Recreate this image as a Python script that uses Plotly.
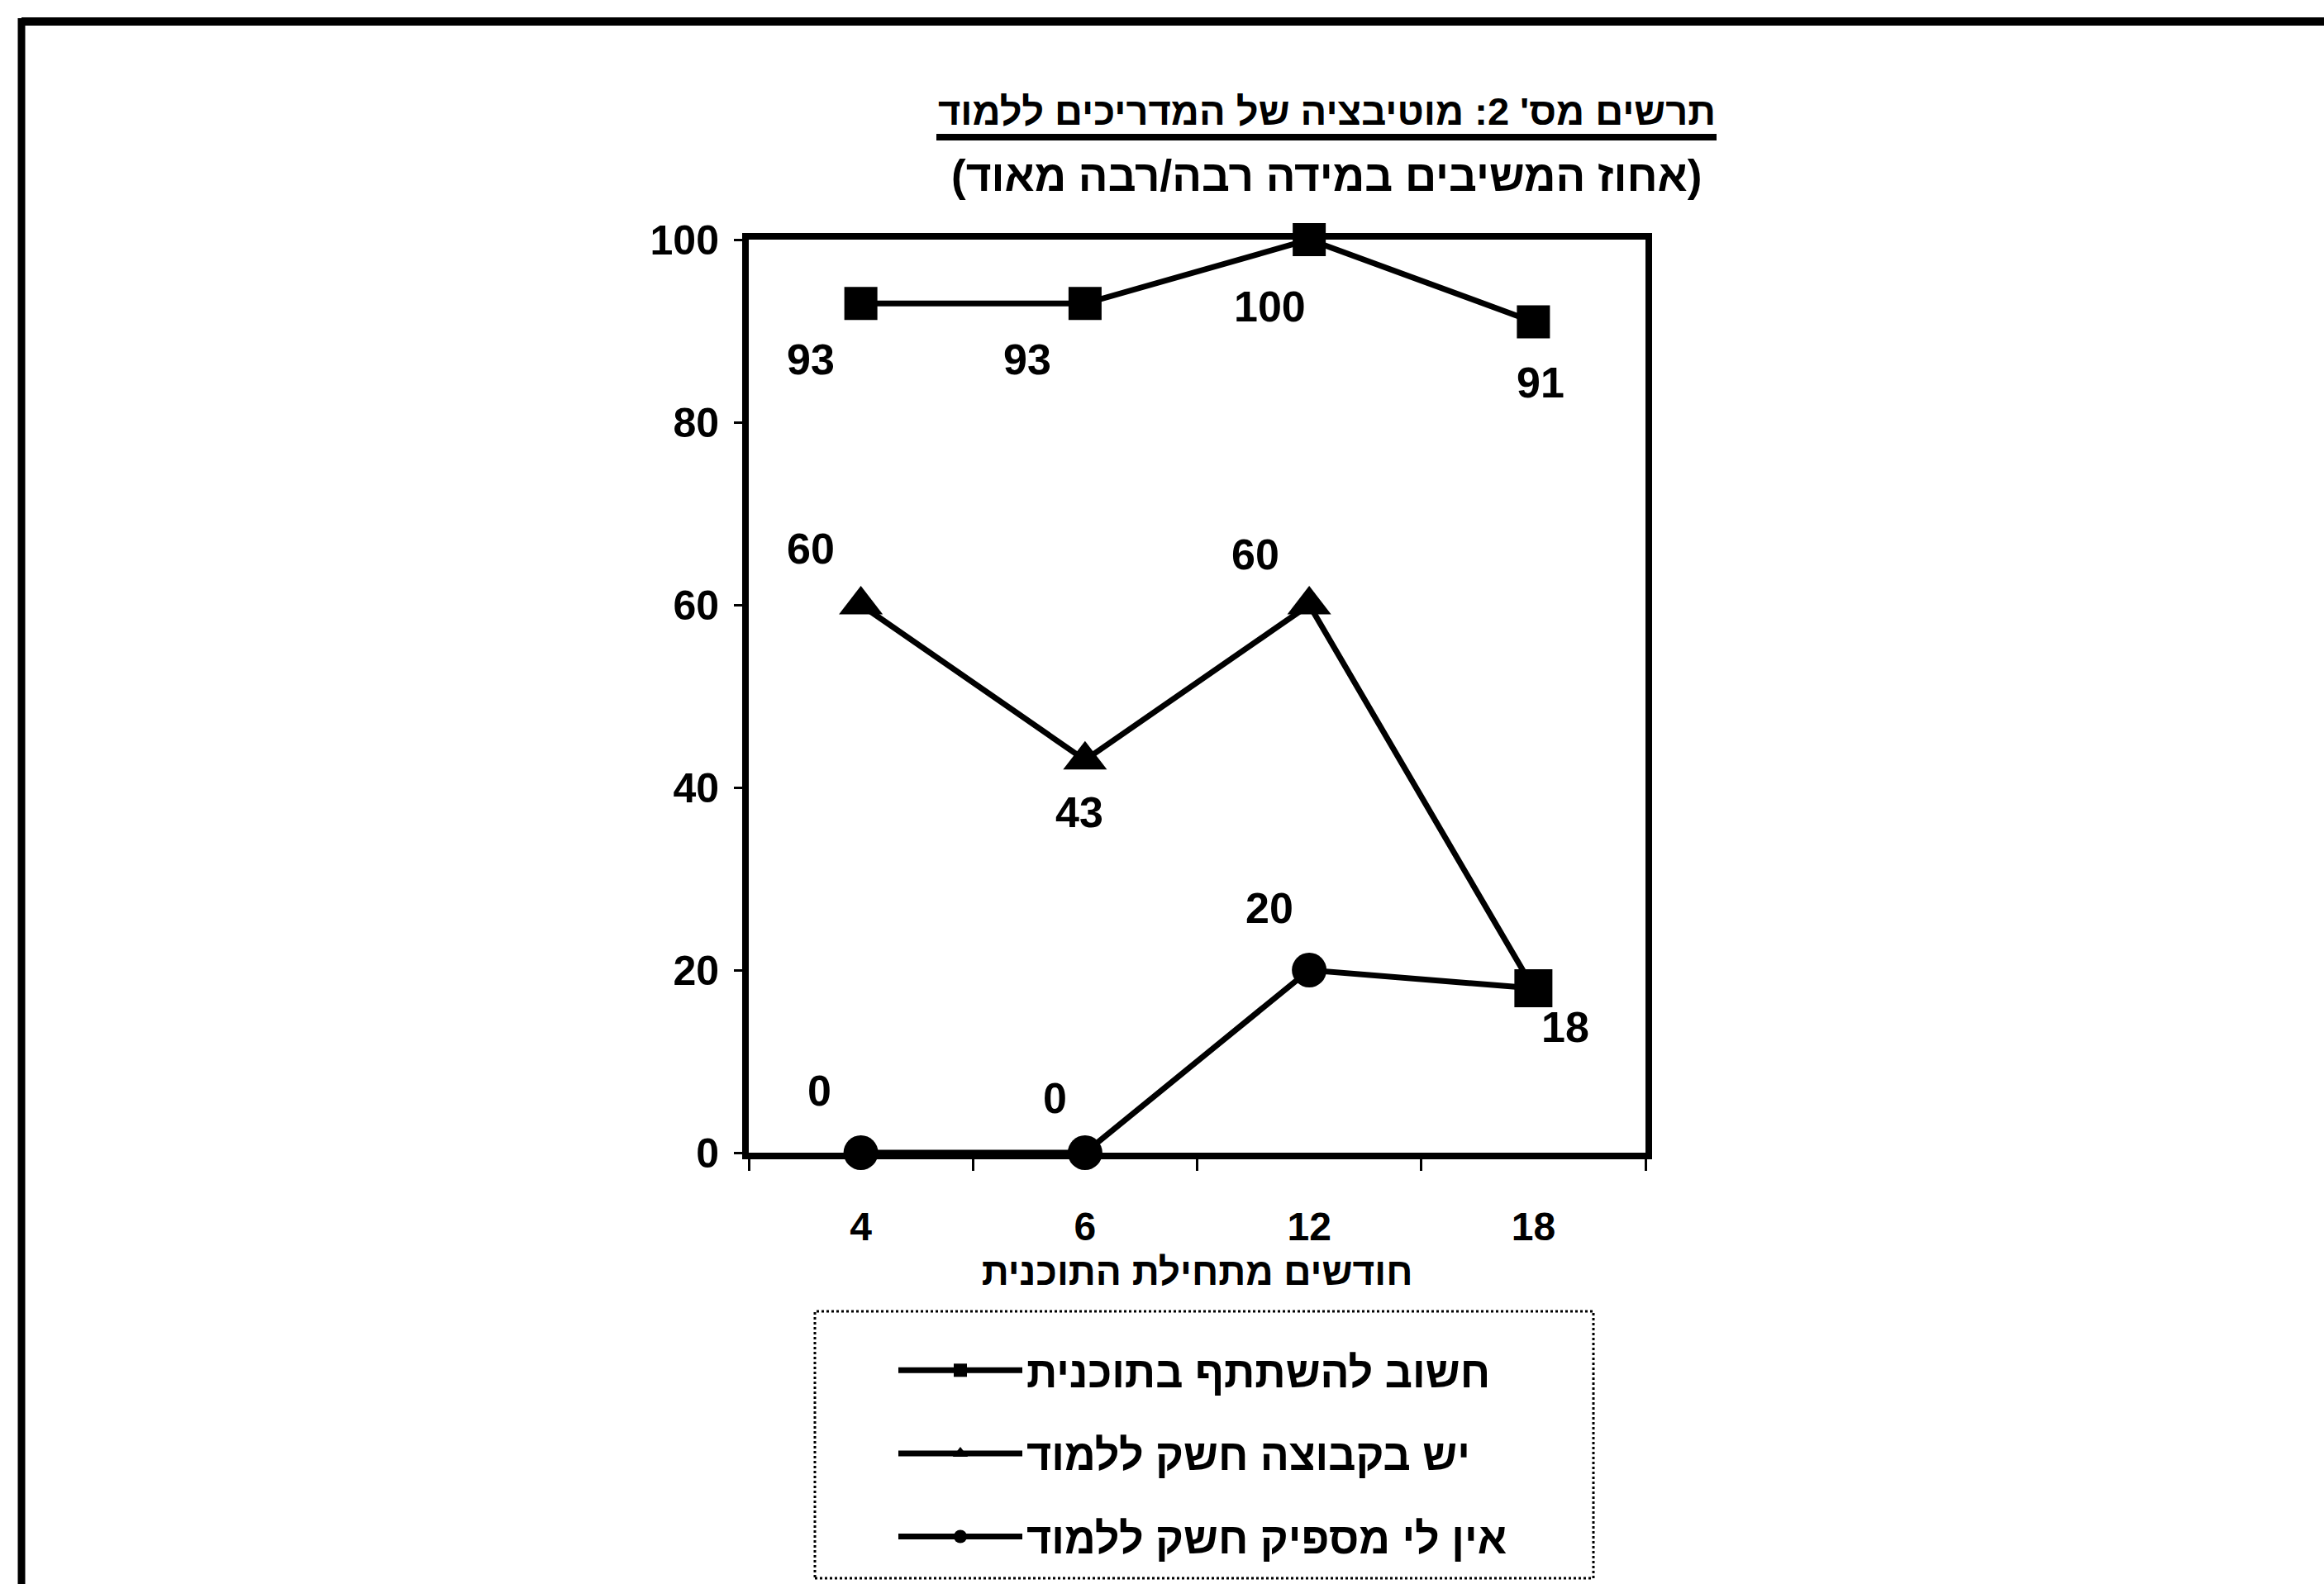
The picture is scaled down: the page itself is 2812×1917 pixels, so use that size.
import plotly.graph_objects as go

# ---- data ----
months = ["4", "6", "12", "18"]
important_to_join = [93, 93, 100, 91]
group_wants_to_learn = [60, 43, 60, 18]
not_enough_desire = [0, 0, 20, 18]

series_names = [
    "חשוב להשתתף בתוכנית",
    "יש בקבוצה חשק ללמוד",
    "אין לי מספיק חשק ללמוד",
]
title_line1 = "תרשים מס' 2: מוטיבציה של המדריכים ללמוד"
title_line2 = "(אחוז המשיבים במידה רבה/רבה מאוד)"
x_title = "חודשים מתחילת התוכנית"
y_ticks = [0, 20, 40, 60, 80, 100]

# ---- page geometry (px) ----
W, H = 2812, 1917
PL, PR, PT, PB = 906, 1991, 290, 1395  # plot area edges
PW, PH = PR - PL, PB - PT


def px(x):
    return (x - PL) / PW


def py(y):
    return (PB - y) / PH


FONT = "Liberation Sans, Arial, sans-serif"
BLACK = "#000000"

fig = go.Figure()

symbols = [
    ["square"] * 4,
    ["triangle-up"] * 3 + ["square"],
    ["circle"] * 3 + ["square"],
]
sizes = [40, 46, 42]
series_vals = [important_to_join, group_wants_to_learn, not_enough_desire]

for i, (name, vals) in enumerate(zip(series_names, series_vals)):
    fig.add_trace(go.Scatter(
        x=months, y=vals, name=name, mode="lines+markers",
        line=dict(color=BLACK, width=7),
        marker=dict(symbol=symbols[i], size=sizes[i], color=BLACK,
                    line=dict(width=0)),
        cliponaxis=False, legendgroup=f"g{i}",
    ))

# value labels: pixel offsets from each point (None = no label)
label_offsets = [
    [(-61, -68), (-70, -68), (-48, -81), (9, -74)],
    [(-61, 68), (-7, -63), (-65, 61), (39, -47)],
    [(-50, 75), (-36, 66), (-48, 75), None],
]
for vals, offs in zip(series_vals, label_offsets):
    for idx, (v, o) in enumerate(zip(vals, offs)):
        if o is None:
            continue
        # category axes take annotation positions as category indices
        fig.add_annotation(
            x=idx, y=v, xref="x", yref="y", text=str(v), showarrow=False,
            xshift=o[0], yshift=o[1],
            font=dict(family=FONT, size=52, color=BLACK, weight="bold"),
        )

# title lines
fig.add_annotation(
    x=px(1605), y=py(134), xref="paper", yref="paper", showarrow=False,
    text=title_line1,
    font=dict(family=FONT, size=47, color=BLACK, weight="bold"),
    xanchor="center", yanchor="middle",
)
fig.add_shape(type="line", xref="paper", yref="paper",
              x0=px(1133), x1=px(2077), y0=py(166), y1=py(166),
              line=dict(color=BLACK, width=8))
fig.add_annotation(
    x=px(1605), y=py(212), xref="paper", yref="paper", showarrow=False,
    text=title_line2,
    font=dict(family=FONT, size=53, color=BLACK, weight="bold"),
    xanchor="center", yanchor="middle",
)

# dotted legend frame
fig.add_shape(type="rect", xref="paper", yref="paper",
              x0=px(986), x1=px(1928), y0=py(1910), y1=py(1587),
              line=dict(color=BLACK, width=3, dash="dot"))

# page frame (top and left edges)
fig.add_shape(type="line", xref="paper", yref="paper",
              x0=px(26), x1=px(W + 20), y0=py(26), y1=py(26),
              line=dict(color=BLACK, width=10))
fig.add_shape(type="line", xref="paper", yref="paper",
              x0=px(26), x1=px(26), y0=py(22), y1=py(H + 20),
              line=dict(color=BLACK, width=9))

fig.update_layout(
    width=W, height=H,
    margin=dict(l=PL, r=W - PR, t=PT, b=H - PB, autoexpand=False),
    paper_bgcolor="white", plot_bgcolor="white",
    font=dict(family=FONT, color=BLACK),
    showlegend=True,
    legend=dict(
        x=px(1082), y=py(1618), xanchor="left", yanchor="top",
        bgcolor="rgba(0,0,0,0)", borderwidth=0,
        font=dict(family=FONT, size=52, color=BLACK, weight="bold"),
        itemwidth=150, itemsizing="trace", tracegroupgap=30,
        traceorder="grouped",
    ),
)

fig.update_xaxes(
    type="category", categoryorder="array", categoryarray=months,
    range=[-0.5, 3.5],
    showline=True, linecolor=BLACK, linewidth=8, mirror=True,
    showgrid=False, zeroline=False,
    ticks="outside", tickson="boundaries", ticklen=14, tickwidth=3,
    tickcolor=BLACK, ticklabelstandoff=40,
    tickfont=dict(family=FONT, size=48, color=BLACK, weight="bold"),
    title=dict(text=x_title, standoff=16,
               font=dict(family=FONT, size=46, color=BLACK, weight="bold")),
)
fig.update_yaxes(
    range=[0, 100], tickvals=y_ticks,
    showline=True, linecolor=BLACK, linewidth=8, mirror=True,
    showgrid=False, zeroline=False,
    ticks="outside", ticklen=10, tickwidth=3, tickcolor=BLACK,
    ticklabelstandoff=8,
    tickfont=dict(family=FONT, size=50, color=BLACK, weight="bold"),
)

fig.write_html("out.html")
